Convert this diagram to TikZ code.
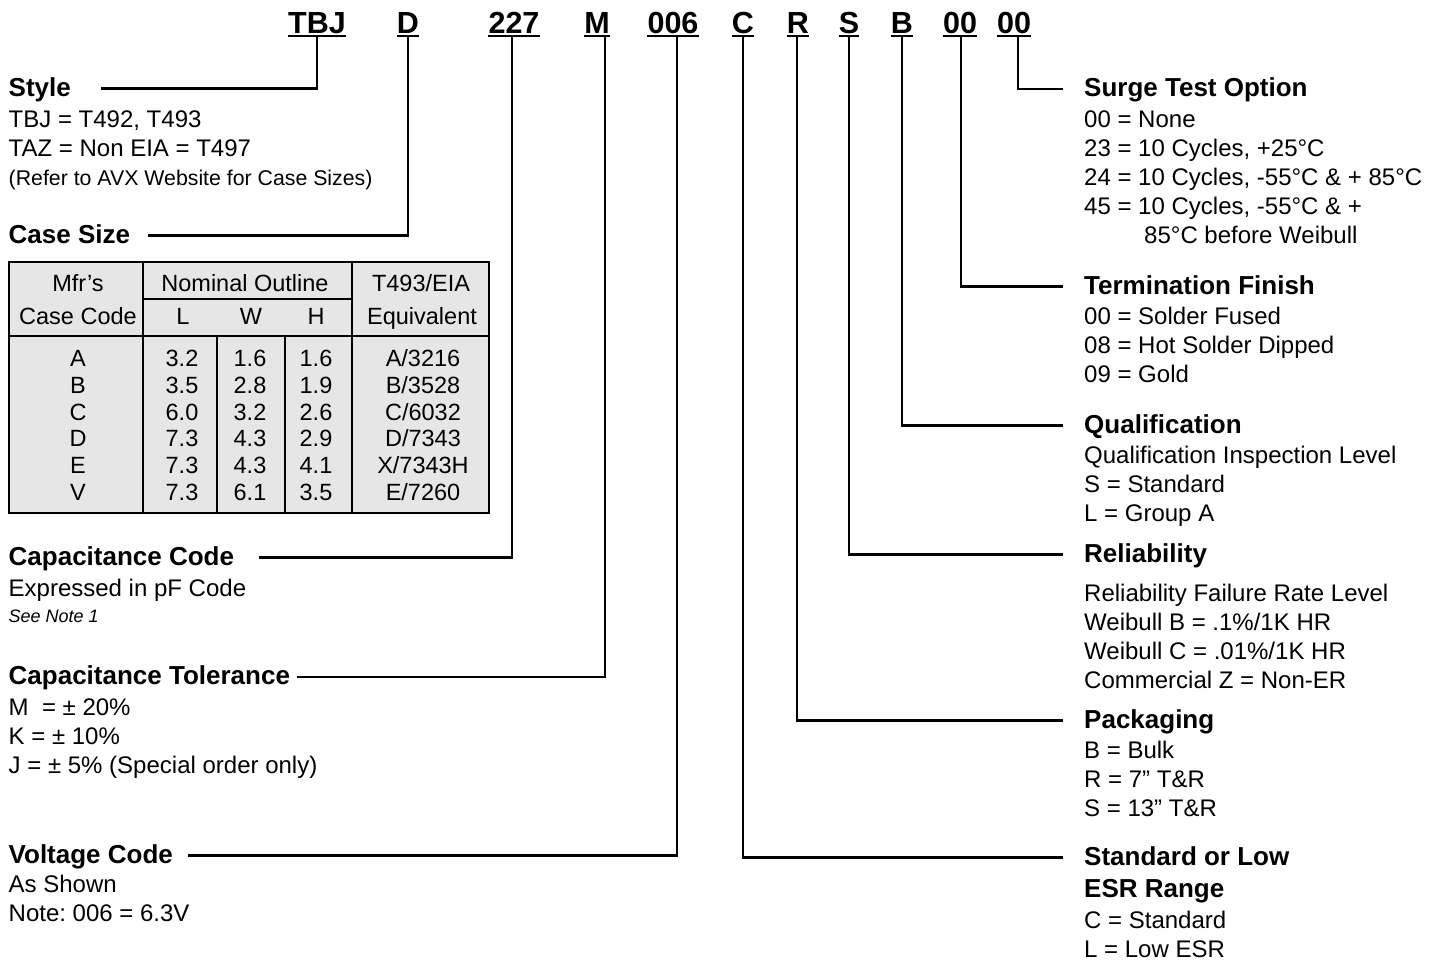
\documentclass[tikz,border=0pt]{standalone}
\usepackage{fontspec}
\setmainfont{Liberation Sans}
\usepackage{tikz}
\usetikzlibrary{positioning}
\frenchspacing
\definecolor{pnCell}{HTML}{E6E6E6}
\tikzset{
  pn-code/.style={font=\fontsize{30.5}{36}\selectfont\bfseries, inner sep=0pt, anchor=base},
  pn-head/.style={font=\fontsize{26}{30}\selectfont\bfseries, inner sep=0pt,
    text height=15pt, text depth=0pt, anchor=base west},
  pn-body/.style={font=\fontsize{24}{29}\selectfont, inner sep=0pt, align=left,
    anchor=north west, execute at begin node=\strut, execute at end node=\strut},
  pn-note/.style={font=\fontsize{21.3}{25}\selectfont, inner sep=0pt,
    anchor=north west, execute at begin node=\strut},
  pn-cell/.style={font=\fontsize{23.5}{28}\selectfont, inner sep=0pt, anchor=base},
  pn-lead/.style={line width=2.8pt},
  pn-rule/.style={line width=2.7pt},
  pn-grid/.style={line width=1.5pt},
}
\begin{document}
\begin{tikzpicture}[x=1pt, y=-1pt]
  \useasboundingbox (0,0) rectangle (1443,961);

  % part number
  \node[pn-code] (cTBJ) at (317,33.5)  {TBJ};
  \node[pn-code] (cD)   at (408,33.5)  {D};
  \node[pn-code] (c227) at (514,33.5)  {227};
  \node[pn-code] (cM)   at (597,33.5)  {M};
  \node[pn-code] (c006) at (673,33.5)  {006};
  \node[pn-code] (cC)   at (743,33.5)  {C};
  \node[pn-code] (cR)   at (798,33.5)  {R};
  \node[pn-code] (cS)   at (849,33.5)  {S};
  \node[pn-code] (cB)   at (902,33.5)  {B};
  \node[pn-code] (cTf)  at (960,33.5)  {00};
  \node[pn-code] (cSg)  at (1014,33.5) {00};
  \foreach \c in {cTBJ,cD,c227,cM,c006,cC,cR,cS,cB,cTf,cSg}
    \draw[pn-rule] ([yshift=-2.5pt]\c.base west) -- ([yshift=-2.5pt]\c.base east);

  \coordinate (tTBJ) at (317,36);
  \coordinate (tD)   at (408,36);
  \coordinate (t227) at (512,36);
  \coordinate (tM)   at (605,36);
  \coordinate (t006) at (677,36);
  \coordinate (tC)   at (743,36);
  \coordinate (tR)   at (797,36);
  \coordinate (tS)   at (849,36);
  \coordinate (tB)   at (902,36);
  \coordinate (tTf)  at (961,36);
  \coordinate (tSg)  at (1018,36);

  % left side
  \node[pn-head] (hStyle) at (8.5,96) {Style};
  \node[pn-body, below=14pt of hStyle.south west, anchor=north west] (sStyle)
    {TBJ = T492, T493\\TAZ = Non EIA = T497};
  \node[pn-note, below=3pt of sStyle.south west, anchor=north west] (sStyleNote)
    {(Refer to AVX Website for Case Sizes)};

  \node[pn-head] (hCase) at (8.5,243) {Case Size};

  \fill[pnCell] (9,262) rectangle (489,513);
  \draw[pn-grid] (9,262) rectangle (489,513);
  \draw[pn-grid] (9,336) -- (489,336);
  \draw[pn-grid] (143,299) -- (352,299);
  \draw[pn-grid] (143,262) -- (143,513);
  \draw[pn-grid] (352,262) -- (352,513);
  \draw[pn-grid] (217,336) -- (217,513);
  \draw[pn-grid] (285,336) -- (285,513);
  \node[pn-cell] (kMfr)  at (78,291.7)  {Mfr’s};
  \node[pn-cell] (kCode) at (78,324)    {Case Code};
  \node[pn-cell] (kNom)  at (245,291.7) {Nominal Outline};
  \node[pn-cell] (kL)    at (183,324)   {L};
  \node[pn-cell] (kW)    at (251,324)   {W};
  \node[pn-cell] (kH)    at (316,324)   {H};
  \node[pn-cell] (kEia)  at (421,291.7) {T493/EIA};
  \node[pn-cell] (kEq)   at (422,324)   {Equivalent};
  \foreach \c/\l/\w/\h/\ea/\eb [count=\i] in
      {A/3.2/1.6/1.6/A/3216, B/3.5/2.8/1.9/B/3528, C/6.0/3.2/2.6/C/6032,
       D/7.3/4.3/2.9/D/7343, E/7.3/4.3/4.1/X/7343H, V/7.3/6.1/3.5/E/7260} {
    \node[pn-cell] (r\i-c) at (78,{340.03+26.67*\i})  {\c};
    \node[pn-cell] (r\i-l) at (182,{340.03+26.67*\i}) {\l};
    \node[pn-cell] (r\i-w) at (250,{340.03+26.67*\i}) {\w};
    \node[pn-cell] (r\i-h) at (316,{340.03+26.67*\i}) {\h};
    \node[pn-cell] (r\i-e) at (423,{340.03+26.67*\i}) {\ea/\eb};
  }

  \node[pn-head] (hCapC) at (8.5,565) {Capacitance Code};
  \node[pn-body, below=11pt of hCapC.south west, anchor=north west] (sCapC)
    {Expressed in pF Code};
  \node[pn-note, font=\fontsize{18}{22}\selectfont\itshape,
        below=1pt of sCapC.south west, anchor=north west] (sCapCNote) {See Note 1};

  \node[pn-head] (hTol) at (8.5,684.5) {Capacitance Tolerance};
  \node[pn-body, below=13.5pt of hTol.south west, anchor=north west] (sTol)
    {M\ \ = ± 20\%\\K = ± 10\%\\J = ± 5\% (Special order only)};

  \node[pn-head] (hVolt) at (8.5,863) {Voltage Code};
  \node[pn-body, below=12pt of hVolt.south west, anchor=north west] (sVolt)
    {As Shown\\Note: 006 = 6.3V};

  % right side
  \node[pn-head] (hSurge) at (1084,96.5) {Surge Test Option};
  \node[pn-body, below=13.5pt of hSurge.south west, anchor=north west] (sSurge)
    {00 = None\\23 = 10 Cycles, +25°C\\24 = 10 Cycles, -55°C \& + 85°C\\
     45 = 10 Cycles, -55°C \& +\\\hspace*{60pt}85°C before Weibull};

  \node[pn-head] (hTerm) at (1084,294) {Termination Finish};
  \node[pn-body, below=13pt of hTerm.south west, anchor=north west] (sTerm)
    {00 = Solder Fused\\08 = Hot Solder Dipped\\09 = Gold};

  \node[pn-head] (hQual) at (1084,433) {Qualification};
  \node[pn-body, below=12.5pt of hQual.south west, anchor=north west] (sQual)
    {Qualification Inspection Level\\S = Standard\\L = Group A};

  \node[pn-head] (hRel) at (1084,562) {Reliability};
  \node[pn-body, below=21.5pt of hRel.south west, anchor=north west] (sRel)
    {Reliability Failure Rate Level\\Weibull B = .1\%/1K HR\\
     Weibull C = .01\%/1K HR\\Commercial Z = Non-ER};

  \node[pn-head] (hPack) at (1084,728) {Packaging};
  \node[pn-body, below=13pt of hPack.south west, anchor=north west] (sPack)
    {B = Bulk\\R = 7” T\&R\\S = 13” T\&R};

  \node[pn-head] (hStd) at (1084,865) {Standard or Low};
  \node[pn-head, below=17.5pt of hStd.south west, anchor=north west] (hEsr) {ESR Range};
  \node[pn-body, below=12.5pt of hEsr.south west, anchor=north west] (sEsr)
    {C = Standard\\L = Low ESR};

  % leads
  \draw[pn-lead] (tTBJ) |- ([xshift=30pt]hStyle.east);
  \draw[pn-lead] (tD)   |- ([xshift=18pt]hCase.east);
  \draw[pn-lead] (t227) |- ([xshift=25pt]hCapC.east);
  \draw[pn-lead] (tM)   |- ([xshift=7pt]hTol.east);
  \draw[pn-lead] (t006) |- ([xshift=15pt]hVolt.east);
  \draw[pn-lead] (tC)   |- ([xshift=-21pt]hStd.west);
  \draw[pn-lead] (tR)   |- ([xshift=-21pt]hPack.west);
  \draw[pn-lead] (tS)   |- ([xshift=-21pt]hRel.west);
  \draw[pn-lead] (tB)   |- ([xshift=-21pt]hQual.west);
  \draw[pn-lead] (tTf)  |- ([xshift=-21pt]hTerm.west);
  \draw[pn-lead] (tSg)  |- ([xshift=-21pt]hSurge.west);
\end{tikzpicture}
\end{document}
